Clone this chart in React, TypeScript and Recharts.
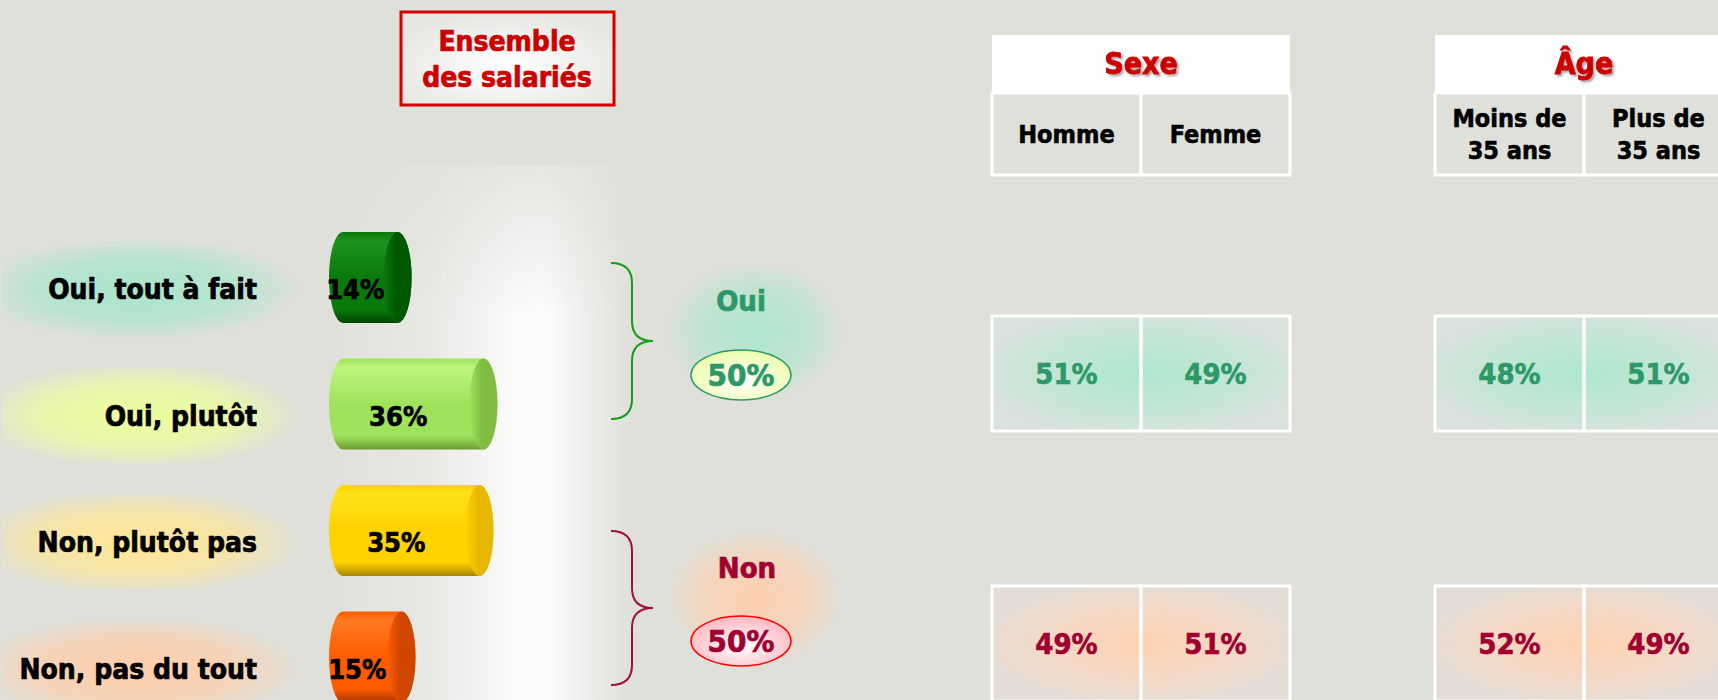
import { BarChart, Bar, XAxis, YAxis } from 'recharts';

// survey answers (ensemble des salariés)
const answers = ['Oui, tout à fait', 'Oui, plutôt', 'Non, plutôt pas', 'Non, pas du tout'];
const shares = [14, 36, 35, 15];

const groupNames = ['Oui', 'Non'];

// breakdown tables
const sexeCols = [['Homme'], ['Femme']];
const ageCols = [['Moins de', '35 ans'], ['Plus de', '35 ans']];
const sexeOui = [51, 49];
const sexeNon = [49, 51];
const ageOui = [48, 51];
const ageNon = [52, 49];

const FONT = "'DejaVu Sans Condensed', 'DejaVu Sans', sans-serif";
const BG = '#dfe0da';
const OUI = '#2e9968';
const NON = '#a00030';

const cylColors = [
  { top: '#1e921e', mid: '#0a7a0a', bottom: '#004400', cap: '#005800' },
  { top: '#bdf57a', mid: '#9fe35c', bottom: '#6a9a34', cap: '#80bd42' },
  { top: '#ffe21a', mid: '#ffd200', bottom: '#a88400', cap: '#e6b800' },
  { top: '#ff7a22', mid: '#ff5c00', bottom: '#a83400', cap: '#cf4600' },
];
const glowColors = ['#a9e5cb', '#ecff9c', '#ffe796', '#ffceaa'];

const data = answers.map((name, i) => ({ name, value: shares[i] }));
const groupTotals = [shares[0] + shares[1], shares[2] + shares[3]];

// heavier text, the source font is a thick condensed bold
const heavy = (color: string, w = 0.7) => ({
  fontFamily: FONT,
  fontWeight: 'bold' as const,
  fill: color,
  stroke: color,
  strokeWidth: w,
  paintOrder: 'stroke' as const,
});

function Cylinder(props: any) {
  const { x, y, width, height, index, payload } = props;
  const c = cylColors[index];
  const rx = 14;
  const ry = height / 2;
  const xr = x + width;
  const body = `M${x},${y} L${xr},${y} A${rx},${ry} 0 0 1 ${xr},${y + height} L${x},${y + height} A${rx},${ry} 0 0 1 ${x},${y} Z`;
  return (
    <g>
      <defs>
        <linearGradient id={`body${index}`} x1="0" y1="0" x2="0" y2="1">
          <stop offset="0%" stopColor={c.mid} />
          <stop offset="10%" stopColor={c.top} />
          <stop offset="50%" stopColor={c.mid} />
          <stop offset="85%" stopColor={c.mid} />
          <stop offset="100%" stopColor={c.bottom} />
        </linearGradient>
        <linearGradient id={`cap${index}`} x1="0" y1="0" x2="1" y2="0">
          <stop offset="0%" stopColor={c.mid} />
          <stop offset="45%" stopColor={c.cap} />
          <stop offset="100%" stopColor={c.cap} />
        </linearGradient>
      </defs>
      <path d={body} fill={`url(#body${index})`} />
      <ellipse cx={xr} cy={y + ry} rx={rx} ry={ry} fill={`url(#cap${index})`} />
      <text x={x + width / 2 - 15} y={y + ry + 12} dy="0.36em" textAnchor="middle" fontSize={27} {...heavy('#000')}>
        {payload.value}%
      </text>
    </g>
  );
}

function AnswerTick(props: any) {
  const { x, y, payload } = props;
  const i = answers.indexOf(payload.value);
  return (
    <g>
      <defs>
        <radialGradient id={`lglow${i}`} cx="45%" cy="50%" r="55%">
          <stop offset="0%" stopColor={glowColors[i]} stopOpacity={1} />
          <stop offset="60%" stopColor={glowColors[i]} stopOpacity={0.7} />
          <stop offset="100%" stopColor={glowColors[i]} stopOpacity={0} />
        </radialGradient>
      </defs>
      <rect x={x - 255} y={y + 12 - 48} width={300} height={96} fill={`url(#lglow${i})`} />
      <text x={x} y={y + 12} dy="0.36em" textAnchor="end" fontSize={28} {...heavy('#000')}>
        {payload.value}
      </text>
    </g>
  );
}

function Brace({ x0, y0, y1, color }: { x0: number; y0: number; y1: number; color: string }) {
  const xs = x0 + 21;
  const xt = x0 + 42;
  const ym = (y0 + y1) / 2;
  const d = `M${x0},${y0} C${x0 + 14},${y0} ${xs},${y0 + 6} ${xs},${y0 + 20} L${xs},${ym - 20} C${xs},${ym - 6} ${xs + 8},${ym} ${xt},${ym} C${xs + 8},${ym} ${xs},${ym + 6} ${xs},${ym + 20} L${xs},${y1 - 20} C${xs},${y1 - 6} ${x0 + 14},${y1} ${x0},${y1}`;
  return <path d={d} fill="none" stroke={color} strokeWidth={2} />;
}

function Table({ x0, title, cols, oui, non }: { x0: number; title: string; cols: string[][]; oui: number[]; non: number[] }) {
  const w = 149;
  const rows = [
    { vals: oui, top: 316, color: OUI, glow: 'tglowOui' },
    { vals: non, top: 586, color: NON, glow: 'tglowNon' },
  ];
  return (
    <g>
      <rect x={x0} y={35} width={w * 2} height={58} fill="#fff" />
      <text x={x0 + w} y={63} dy="0.36em" textAnchor="middle" fontSize={30} {...heavy('#cc0000', 0.8)} filter="url(#shadow)">
        {title}
      </text>
      {cols.map((lines, j) => (
        <g key={j}>
          <rect x={x0 + j * w} y={93} width={w} height={82} fill={BG} stroke="#fff" strokeWidth={3} />
          {lines.map((t, k) => (
            <text
              key={k}
              x={x0 + j * w + w / 2}
              y={134 + (k - (lines.length - 1) / 2) * 32}
              dy="0.36em"
              textAnchor="middle"
              fontSize={25}
              {...heavy('#000', 0.6)}
            >
              {t}
            </text>
          ))}
        </g>
      ))}
      {rows.map((r, ri) => (
        <g key={ri}>
          <rect x={x0} y={r.top} width={w * 2} height={115} fill={`url(#${r.glow})`} />
          {r.vals.map((v, j) => (
            <g key={j}>
              <rect x={x0 + j * w} y={r.top} width={w} height={115} fill="none" stroke="#fff" strokeWidth={3} />
              <text x={x0 + j * w + w / 2} y={r.top + 58} dy="0.36em" textAnchor="middle" fontSize={29} {...heavy(r.color, 0.6)}>
                {v}%
              </text>
            </g>
          ))}
        </g>
      ))}
    </g>
  );
}

export default function App() {
  return (
    <div style={{ position: 'relative', width: 1718, height: 700, overflow: 'hidden', background: BG }}>
      <style>{`html,body{margin:0;padding:0;overflow:hidden}`}</style>
      <div
        style={{
          position: 'absolute',
          left: 322,
          top: 165,
          width: 310,
          height: 535,
          background:
            'linear-gradient(to right, rgba(255,255,255,0) 0%, rgba(255,255,255,0.3) 35%, rgba(255,255,255,0.85) 62%, rgba(255,255,255,0.9) 72%, rgba(255,255,255,0.45) 86%, rgba(255,255,255,0) 100%)',
          WebkitMaskImage: 'linear-gradient(to bottom, rgba(0,0,0,0.25) 0%, rgba(0,0,0,1) 28%)',
          maskImage: 'linear-gradient(to bottom, rgba(0,0,0,0.25) 0%, rgba(0,0,0,1) 28%)',
        }}
      />
      <svg width={1718} height={700} style={{ position: 'absolute', left: 0, top: 0 }}>
        <defs>
          <filter id="shadow" x="-20%" y="-20%" width="140%" height="160%">
            <feDropShadow dx="2" dy="2" stdDeviation="1.2" floodColor="#000" floodOpacity="0.35" />
          </filter>
          <radialGradient id="boxFill" cx="50%" cy="60%" r="60%">
            <stop offset="0%" stopColor="#ffffff" />
            <stop offset="100%" stopColor="#e6e6e2" />
          </radialGradient>
          <radialGradient id="tglowOui" cx="50%" cy="50%" r="55%">
            <stop offset="0%" stopColor="#aee8cd" />
            <stop offset="60%" stopColor="#c4e6d6" />
            <stop offset="100%" stopColor="#d9e2dc" />
          </radialGradient>
          <radialGradient id="tglowNon" cx="50%" cy="50%" r="55%">
            <stop offset="0%" stopColor="#ffd2b2" />
            <stop offset="60%" stopColor="#f2d9c8" />
            <stop offset="100%" stopColor="#e3ddd6" />
          </radialGradient>
          <radialGradient id="gglowOui" cx="50%" cy="50%" r="50%">
            <stop offset="0%" stopColor="#ade6cc" stopOpacity={1} />
            <stop offset="60%" stopColor="#ade6cc" stopOpacity={0.6} />
            <stop offset="100%" stopColor="#ade6cc" stopOpacity={0} />
          </radialGradient>
          <radialGradient id="gglowNon" cx="50%" cy="50%" r="50%">
            <stop offset="0%" stopColor="#ffcfae" stopOpacity={1} />
            <stop offset="60%" stopColor="#ffcfae" stopOpacity={0.6} />
            <stop offset="100%" stopColor="#ffcfae" stopOpacity={0} />
          </radialGradient>
          <radialGradient id="ovalOui" cx="50%" cy="60%" r="55%">
            <stop offset="0%" stopColor="#ffffff" />
            <stop offset="100%" stopColor="#ecffb0" />
          </radialGradient>
          <radialGradient id="ovalNon" cx="50%" cy="60%" r="55%">
            <stop offset="0%" stopColor="#ffffff" />
            <stop offset="100%" stopColor="#ffbcc4" />
          </radialGradient>
        </defs>

        {/* title box */}
        <rect x={401} y={12} width={213} height={93} fill="url(#boxFill)" stroke="#d40000" strokeWidth={3} />
        <text x={507} y={41} dy="0.36em" textAnchor="middle" fontSize={28} {...heavy('#cc0000')}>
          Ensemble
        </text>
        <text x={507} y={77} dy="0.36em" textAnchor="middle" fontSize={28} {...heavy('#cc0000')}>
          des salariés
        </text>

        {/* Oui / Non groups */}
        <Brace x0={611} y0={263} y1={419} color="#1a9a1a" />
        <Brace x0={611} y0={531} y1={685} color="#a0103a" />
        {groupNames.map((g, i) => {
          const cy = i === 0 ? 301 : 568;
          const oy = i === 0 ? 375 : 641;
          const col = i === 0 ? OUI : NON;
          return (
            <g key={g}>
              <rect x={665} y={cy - 40} width={180} height={140} fill={`url(#${i === 0 ? 'gglowOui' : 'gglowNon'})`} />
              <text x={i === 0 ? 741 : 747} y={cy} dy="0.36em" textAnchor="middle" fontSize={29} {...heavy(col)}>
                {g}
              </text>
              <ellipse cx={741} cy={oy} rx={50} ry={25} fill={`url(#${i === 0 ? 'ovalOui' : 'ovalNon'})`} stroke={i === 0 ? OUI : '#ff0000'} strokeWidth={1.5} />
              <text x={741} y={oy} dy="0.36em" textAnchor="middle" fontSize={31} {...heavy(col)}>
                {groupTotals[i]}%
              </text>
            </g>
          );
        })}

        <Table x0={992} title="Sexe" cols={sexeCols} oui={sexeOui} non={sexeNon} />
        <Table x0={1435} title="Âge" cols={ageCols} oui={ageOui} non={ageNon} />
      </svg>

      <div style={{ position: 'absolute', left: 0, top: 0 }}>
        <BarChart
          width={620}
          height={760}
          layout="vertical"
          data={data}
          margin={{ top: 214, right: 82, bottom: 40, left: 0 }}
          barCategoryGap={36}
        >
          <XAxis type="number" domain={[0, 50]} hide />
          <YAxis
            type="category"
            dataKey="name"
            width={343}
            axisLine={false}
            tickLine={false}
            tickSize={0}
            tickMargin={86}
            tick={<AnswerTick />}
            interval={0}
          />
          <Bar dataKey="value" barSize={91} shape={<Cylinder />} isAnimationActive={false} />
        </BarChart>
      </div>
    </div>
  );
}
